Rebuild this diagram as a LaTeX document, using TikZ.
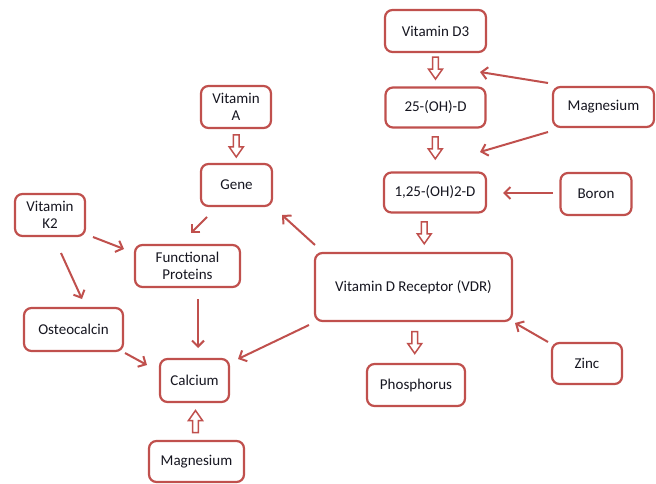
\documentclass[tikz,border=0pt]{standalone}
\usepackage{fontspec}
\setmainfont{Carlito}
\usetikzlibrary{arrows.meta,calc}
\definecolor{brd}{RGB}{192,80,77}
\definecolor{txt}{RGB}{22,22,32}
\tikzset{
  box/.style={draw=brd, line width=2.2pt, rounded corners=7.5pt, fill=white,
    text=txt, align=center, inner sep=0pt,
    font=\fontsize{15}{17}\selectfont},
  arr/.style={draw=brd, line width=2pt, -{Straight Barb[length=6pt,width=12pt]}},
  hdown/.pic={\draw[brd, line width=1.5pt, fill=white, line join=miter]
      (-2.8,-11) -- (2.8,-11) -- (2.8,1) -- (7,1) -- (0,11) -- (-7,1) -- (-2.8,1) -- cycle;},
}
\begin{document}
\begin{tikzpicture}[x=1pt,y=-1pt]
\useasboundingbox[fill=white] (0,0) rectangle (656,484);
% nodes
\node[box, minimum width=101pt, minimum height=42pt] (d3) at (435.5,31) {Vitamin D3};
\node[box, minimum width=100pt, minimum height=40pt] (oh25) at (435.5,107.5) {25-(OH)-D};
\node[box, minimum width=102pt, minimum height=40pt] (oh2) at (435,192.5) {1,25-(OH)2-D};
\node[box, minimum width=101pt, minimum height=40pt] (mg1) at (603.5,107) {Magnesium};
\node[box, minimum width=71pt, minimum height=42pt] (boron) at (596,194) {Boron};
\node[box, minimum width=70pt, minimum height=42pt] (vita) at (236,107) {Vitamin\\A};
\node[box, minimum width=71pt, minimum height=42pt] (gene) at (236.5,185) {Gene};
\node[box, minimum width=70pt, minimum height=42pt] (k2) at (50,215) {Vitamin\\K2};
\node[box, minimum width=105pt, minimum height=42pt] (fp) at (187.5,266) {Functional\\Proteins};
\node[box, minimum width=99pt, minimum height=43pt] (osteo) at (73.5,329.5) {Osteocalcin};
\node[box, minimum width=69pt, minimum height=43pt] (calc) at (194.5,380.5) {Calcium};
\node[box, minimum width=95pt, minimum height=41pt] (mg2) at (196.5,461.5) {Magnesium};
\node[box, minimum width=197pt, minimum height=68pt] (vdr) at (413.5,287) {Vitamin D Receptor (VDR)};
\node[box, minimum width=98pt, minimum height=42pt] (phos) at (416,385) {Phosphorus};
\node[box, minimum width=70pt, minimum height=41pt] (zinc) at (587,363.5) {Zinc};
% free ends of connectors
\coordinate (m1s) at (548,83);  \coordinate (m1e) at (480,72);
\coordinate (m2s) at (548,132); \coordinate (m2e) at (480,152);
\coordinate (bs) at (553,193);  \coordinate (be) at (503,193);
\coordinate (vgs) at (315,245); \coordinate (vge) at (282,215);
\coordinate (gfs) at (207,217); \coordinate (gfe) at (191,233);
\coordinate (kfs) at (93,237);  \coordinate (kfe) at (124,249);
\coordinate (kos) at (61,253);  \coordinate (koe) at (82,299);
\coordinate (fcs) at (198,299); \coordinate (fce) at (198,348);
\coordinate (ocs) at (125,353); \coordinate (oce) at (147,365);
\coordinate (vcs) at (309,325); \coordinate (vce) at (238,359);
\coordinate (zvs) at (548,342); \coordinate (zve) at (515,323);
% connectors
\draw[arr] (m1s) -- (m1e);
\draw[arr] (m2s) -- (m2e);
\draw[arr] (bs) -- (be);
\draw[arr] (vgs) -- (vge);
\draw[arr] (gfs) -- (gfe);
\draw[arr] (kfs) -- (kfe);
\draw[arr] (kos) -- (koe);
\draw[arr] (fcs) -- (fce);
\draw[arr] (ocs) -- (oce);
\draw[arr] (vcs) -- (vce);
\draw[arr] (zvs) -- (zve);
% hollow block arrows
\pic at ($(d3.south)!0.45!(oh25.north)$) {hdown};
\pic at ($(oh25.south)!0.45!(oh2.north)$) {hdown};
\pic at ($(oh2.south)!0.5!(vdr.north)$) {hdown};
\pic at ($(vita.south)!0.5!(gene.north)$) {hdown};
\pic at ($(vdr.south)!0.5!(phos.north)$) {hdown};
\pic[rotate=180] at ($(mg2.north)!0.5!(calc.south)$) {hdown};
\end{tikzpicture}
\end{document}
